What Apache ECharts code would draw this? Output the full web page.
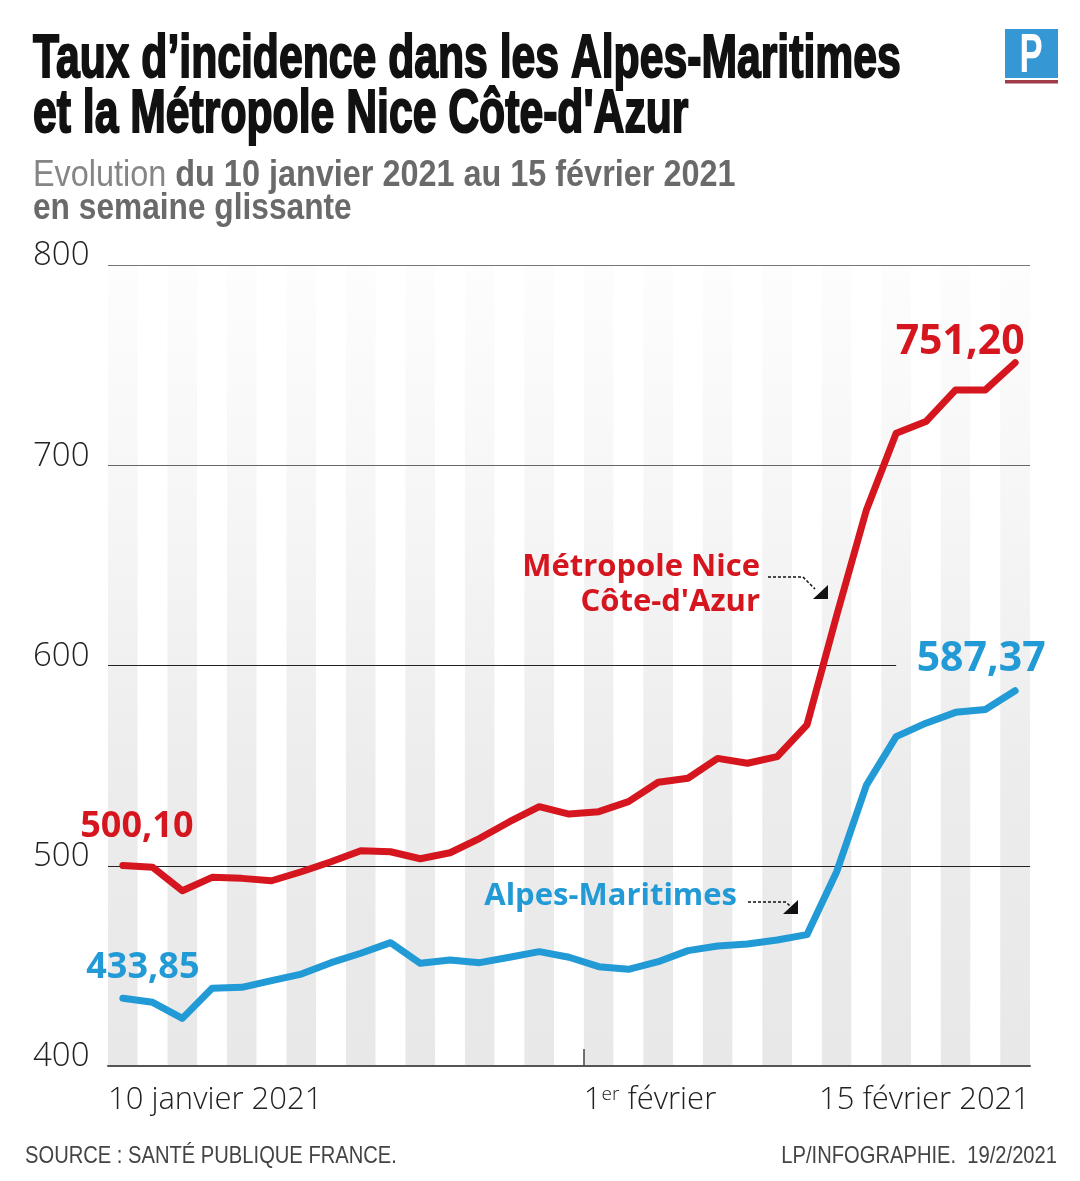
<!DOCTYPE html>
<html><head><meta charset="utf-8">
<script src="https://cdn.jsdelivr.net/npm/echarts@6/dist/echarts.min.js"></script>
<style>html,body{margin:0;padding:0;background:#fff}#c{width:1080px;height:1181px}</style>
</head><body><div id="c"></div>
<script>
// End date of each sliding week (10–16 Jan ... 9–15 Feb 2021)
const dates = ['16/01','17/01','18/01','19/01','20/01','21/01','22/01','23/01','24/01','25/01','26/01','27/01','28/01','29/01','30/01','31/01',
  '01/02','02/02','03/02','04/02','05/02','06/02','07/02','08/02','09/02','10/02','11/02','12/02','13/02','14/02','15/02'];
// Taux d'incidence, Métropole Nice Côte-d'Azur
const nice = [500.10, 499.2, 487.5, 494.2, 493.7, 492.5, 497.0, 502.0, 507.5, 507.0, 503.5, 506.5, 513.7, 522.0, 529.5, 525.8,
  527.0, 532.0, 541.7, 543.7, 553.6, 551.2, 554.5, 570.3, 625.0, 677.7, 716.0, 721.8, 737.6, 737.6, 751.20];
// Taux d'incidence, Alpes-Maritimes
const alpes = [433.85, 431.8, 423.8, 438.8, 439.3, 442.6, 445.9, 451.6, 456.3, 461.6, 451.3, 452.9, 451.6, 454.3, 457.1, 454.3,
  449.6, 448.3, 452.1, 457.6, 459.9, 460.9, 462.9, 465.6, 497.0, 540.3, 564.5, 571.2, 576.6, 578.0, 587.37];
// Date tick labels (band edges, in category units)
const xTickLabels = ['10 janvier 2021', '1er février', '15 février 2021'];
const xTickPos = [-0.5, 15.5, 30.5];
const xMajorTick = [15.5];
const yMin = 400, yMax = 800, yStep = 100;

const RED = '#d6161e', BLUE = '#219ad6';
const SANS = "'Open Sans', 'Liberation Sans', sans-serif";
const GL = 108, GR = 50, GT = 265, GB = 115;

const fmt = v => v.toFixed(2).replace('.', ',');
const last = nice.length - 1;

const stripe = {type:'linear', x:0, y:0, x2:0, y2:1, colorStops:[
  {offset:0, color:'#fdfdfd'}, {offset:0.3, color:'#f6f6f6'}, {offset:0.65, color:'#ececec'}, {offset:1, color:'#e8e8e8'}]};

function valueLabel(color){
  return {
    show:true, position:'top', distance:0,
    formatter: p => p.dataIndex === 0 ? '{s|' + fmt(p.value) + '}' : (p.dataIndex === last ? '{b|' + fmt(p.value) + '}' : ''),
    rich:{
      s:{fontFamily:SANS, fontWeight:'bold', fontSize:36, color:color},
      b:{fontFamily:SANS, fontWeight:'bold', fontSize:41, color:color}
    }
  };
}

const TITLE_FONT = "bold 61px 'Liberation Sans Narrow', 'Liberation Sans', sans-serif";

const chart = echarts.init(document.getElementById('c'), null, {renderer:'canvas'});
chart.setOption({
  animation:false,
  backgroundColor:'#fff',
  grid:{left:GL, right:GR, top:GT, bottom:GB, containLabel:false, outerBoundsMode:'none'},
  xAxis:[
    {type:'category', data:dates, boundaryGap:true, z:0,
      axisLine:{show:true, lineStyle:{color:'#555', width:2}},
      axisTick:{show:false}, axisLabel:{show:false},
      splitLine:{show:false},
      splitArea:{show:true, interval:0, areaStyle:{color:[stripe, '#ffffff']}}},
    {type:'value', min:-0.5, max:30.5, position:'bottom', z:2,
      axisLine:{show:false}, splitLine:{show:false}, splitArea:{show:false},
      axisTick:{show:true, inside:true, length:17, customValues:xMajorTick, lineStyle:{color:'#444', width:1.5}},
      axisLabel:{show:true, customValues:xTickPos, align:'left', alignMinLabel:'left', alignMaxLabel:'right',
        margin:19, fontFamily:SANS, fontWeight:300, fontSize:31, color:'#222',
        formatter: v => { const i = xTickPos.indexOf(v); return i < 0 ? '' : xTickLabels[i].replace(/^1er/, '1{sup|er}'); },
        rich:{sup:{fontFamily:SANS, fontWeight:300, fontSize:19, color:'#222', verticalAlign:'top', padding:[0,0,0,0]}}}}
  ],
  yAxis:{type:'value', min:yMin, max:yMax, interval:yStep, z:1,
    axisLine:{show:false}, axisTick:{show:false},
    axisLabel:{align:'left', margin:75, fontFamily:SANS, fontWeight:300, fontSize:33, color:'#222', verticalAlign:'bottom', lineHeight:18},
    splitLine:{show:true, lineStyle:{color:['rgba(0,0,0,0)','#222','rgba(0,0,0,0)','#666','#777'], width:1}}},
  series:[
    {type:'line', name:"Métropole Nice Côte-d'Azur", data:nice, xAxisIndex:0, yAxisIndex:0,
      symbol:'circle', symbolSize:0, showSymbol:true, showAllSymbol:true, z:3,
      lineStyle:{color:RED, width:7, join:'round', cap:'round'}, itemStyle:{color:RED},
      label:valueLabel(RED),
      labelLayout: p => p.dataIndex === 0 ? {dx:14, dy:-21} : (p.dataIndex === last ? {dx:-55, dy:0} : {})},
    {type:'line', name:'Alpes-Maritimes', data:alpes, xAxisIndex:0, yAxisIndex:0,
      symbol:'circle', symbolSize:0, showSymbol:true, showAllSymbol:true, z:3,
      lineStyle:{color:BLUE, width:7, join:'round', cap:'round'}, itemStyle:{color:BLUE},
      label:valueLabel(BLUE),
      labelLayout: p => p.dataIndex === 0 ? {dx:20, dy:-12} : (p.dataIndex === last ? {dx:-34, dy:-11} : {}),
      markLine:{silent:true, z:1, symbol:['none','none'], label:{show:false}, animation:false,
        lineStyle:{color:'#222', width:1, type:'solid'},
        data:[[{xAxis:dates[0], yAxis:600, x:GL}, {xAxis:dates[26], yAxis:600}]]}}
  ],
  graphic:[
    // title
    {type:'text', z:100, x:33, y:60, scaleX:0.70, style:{text:'Taux d’incidence dans les Alpes-Maritimes', font:TITLE_FONT, fill:'#111', stroke:'#111', lineWidth:2, verticalAlign:'middle', align:'left'}},
    {type:'text', z:100, x:33, y:115, scaleX:0.70, style:{text:"et la Métropole Nice Côte-d'Azur", font:TITLE_FONT, fill:'#111', stroke:'#111', lineWidth:2, verticalAlign:'middle', align:'left'}},
    {type:'text', z:100, x:33, y:176, scaleX:0.9, style:{text:'{a|Evolution }{b|du 10 janvier 2021 au 15 février 2021}', verticalAlign:'middle', align:'left',
      rich:{a:{fontFamily:'Liberation Sans', fontSize:36, fill:'#858585'}, b:{fontFamily:'Liberation Sans', fontWeight:'bold', fontSize:36, fill:'#6a6a6a'}}}},
    {type:'text', z:100, x:33, y:209, scaleX:0.88, style:{text:'en semaine glissante', font:"bold 36px 'Liberation Sans', sans-serif", fill:'#6a6a6a', verticalAlign:'middle', align:'left'}},
    // logo
    {type:'rect', z:100, shape:{x:1005, y:29, width:53, height:49}, style:{fill:'#3597d4'}},
    {type:'rect', z:100, shape:{x:1005, y:80, width:53, height:3.5}, style:{fill:'#a03c4a'}},
    {type:'text', z:101, x:1031, y:57, scaleX:0.62, style:{text:'P', font:"bold 56px 'Liberation Sans Narrow', 'Liberation Sans', sans-serif", fill:'#fff', align:'center', verticalAlign:'middle'}},
    // series annotations
    {type:'text', z:100, x:760, y:550, style:{text:'Métropole Nice\nCôte-d\'Azur', font:"bold 31px " + SANS, fill:RED, align:'right', verticalAlign:'top', lineHeight:35}},
    {type:'polyline', z:100, shape:{points:[[768,577],[803,577],[815,589]]}, style:{stroke:'#111', lineWidth:1.5, lineDash:[3,2], fill:null}},
    {type:'polygon', z:100, shape:{points:[[813,599],[828,585],[828,599]]}, style:{fill:'#111'}},
    {type:'text', z:100, x:737, y:896, style:{text:'Alpes-Maritimes', font:"bold 31px " + SANS, fill:BLUE, align:'right', verticalAlign:'middle'}},
    {type:'polyline', z:100, shape:{points:[[748,902],[786,902],[791,907]]}, style:{stroke:'#111', lineWidth:1.5, lineDash:[3,2], fill:null}},
    {type:'polygon', z:100, shape:{points:[[783,914],[798,900],[798,914]]}, style:{fill:'#111'}},
    // footer
    {type:'text', z:100, x:25, y:1156, scaleX:0.84, style:{text:'SOURCE : SANTÉ PUBLIQUE FRANCE.', font:"24px 'Liberation Sans', sans-serif", fill:'#444', align:'left', verticalAlign:'middle'}},
    {type:'text', z:100, x:1057, y:1156, scaleX:0.84, style:{text:'LP/INFOGRAPHIE.  19/2/2021', font:"24px 'Liberation Sans', sans-serif", fill:'#444', align:'right', verticalAlign:'middle'}}
  ]
});
</script>
</body></html>
